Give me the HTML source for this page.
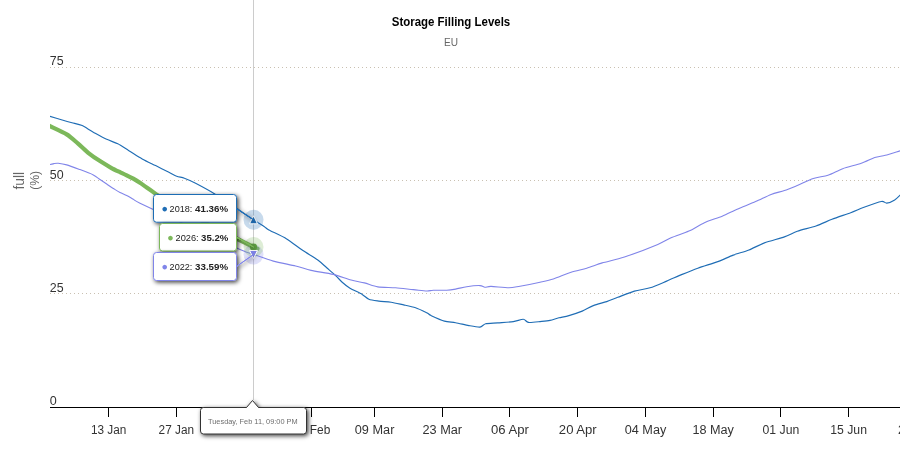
<!DOCTYPE html>
<html lang="en">
<head>
<meta charset="utf-8">
<title>Storage Filling Levels</title>
<style>
html,body{margin:0;padding:0;background:#fff;}
body{width:900px;height:450px;overflow:hidden;font-family:"Liberation Sans", "DejaVu Sans", sans-serif;}
svg{display:block;font-family:"Liberation Sans", "DejaVu Sans", sans-serif;}
.xl text{font-size:12.3px;fill:#333;}
.yl text{font-size:12.9px;fill:#333;}
.tt text{font-size:9.8px;fill:#222;}
.tt tspan.b{font-weight:bold;}
</style>
</head>
<body>
<svg width="900" height="450" viewBox="0 0 900 450">
<defs>
<filter id="sh" x="-20%" y="-30%" width="140%" height="170%">
<feDropShadow dx="1.5" dy="1.5" stdDeviation="2.3" flood-color="#000" flood-opacity="0.75"/>
</filter>
<clipPath id="pc"><rect x="50" y="0" width="860" height="407"/></clipPath>
</defs>
<rect width="900" height="450" fill="#fff"/>
<!-- grid -->
<g stroke="#c9c0b1" stroke-width="1" stroke-dasharray="1,3" fill="none">
<path d="M50 67.5H900"/><path d="M50 180.5H900"/><path d="M50 293.5H900"/>
</g>
<!-- crosshair -->
<path d="M253.5 0V400" stroke="#cccccc" stroke-width="1" fill="none"/>
<!-- axis -->
<g stroke="#000" stroke-width="1" fill="none">
<path d="M50 407.5H900"/>
<path d="M108.5 407V417"/><path d="M176.5 407V417"/><path d="M243.5 407V417"/><path d="M311.5 407V417"/><path d="M374.5 407V417"/><path d="M442.5 407V417"/><path d="M509.5 407V417"/><path d="M577.5 407V417"/><path d="M645.5 407V417"/><path d="M713.5 407V417"/><path d="M780.5 407V417"/><path d="M848.5 407V417"/><path d="M916.5 407V417"/>
</g>
<!-- titles -->
<text x="451" y="26" text-anchor="middle" font-size="12px" font-weight="bold" fill="#000" textLength="118.5" lengthAdjust="spacingAndGlyphs">Storage Filling Levels</text>
<text x="444.1" y="45.6" font-size="11.6px" fill="#666" textLength="14" lengthAdjust="spacingAndGlyphs">EU</text>
<g fill="#666">
<text transform="translate(24,189.6) rotate(-90)" font-size="13.8px" textLength="17.7" lengthAdjust="spacingAndGlyphs">full</text>
<text transform="translate(38.5,189.8) rotate(-90)" font-size="12px" textLength="18.9" lengthAdjust="spacingAndGlyphs">(%)</text>
</g>
<!-- y labels -->
<g class="yl">
<text x="49.8" y="65" textLength="13.8" lengthAdjust="spacingAndGlyphs">75</text>
<text x="49.8" y="179" textLength="13.8" lengthAdjust="spacingAndGlyphs">50</text>
<text x="49.8" y="292" textLength="13.8" lengthAdjust="spacingAndGlyphs">25</text>
<text x="49.8" y="405.2" textLength="7" lengthAdjust="spacingAndGlyphs">0</text>
</g>
<!-- x labels -->
<g class="xl"><text x="108.6" y="433.5" text-anchor="middle" textLength="35.4" lengthAdjust="spacingAndGlyphs">13 Jan</text><text x="176.3" y="433.5" text-anchor="middle" textLength="35.4" lengthAdjust="spacingAndGlyphs">27 Jan</text><text x="244.0" y="433.5" text-anchor="middle" textLength="37.0" lengthAdjust="spacingAndGlyphs">10 Feb</text><text x="311.8" y="433.5" text-anchor="middle" textLength="37.0" lengthAdjust="spacingAndGlyphs">24 Feb</text><text x="374.6" y="433.5" text-anchor="middle" textLength="39.6" lengthAdjust="spacingAndGlyphs">09 Mar</text><text x="442.3" y="433.5" text-anchor="middle" textLength="39.6" lengthAdjust="spacingAndGlyphs">23 Mar</text><text x="510.0" y="433.5" text-anchor="middle" textLength="37.9" lengthAdjust="spacingAndGlyphs">06 Apr</text><text x="577.8" y="433.5" text-anchor="middle" textLength="37.9" lengthAdjust="spacingAndGlyphs">20 Apr</text><text x="645.5" y="433.5" text-anchor="middle" textLength="41.5" lengthAdjust="spacingAndGlyphs">04 May</text><text x="713.2" y="433.5" text-anchor="middle" textLength="41.5" lengthAdjust="spacingAndGlyphs">18 May</text><text x="780.9" y="433.5" text-anchor="middle" textLength="36.7" lengthAdjust="spacingAndGlyphs">01 Jun</text><text x="848.6" y="433.5" text-anchor="middle" textLength="36.7" lengthAdjust="spacingAndGlyphs">15 Jun</text><text x="916.4" y="433.5" text-anchor="middle" textLength="36.7" lengthAdjust="spacingAndGlyphs">29 Jun</text></g>
<!-- series -->
<g fill="none" stroke-linejoin="round" stroke-linecap="round" clip-path="url(#pc)">
<path d="M45.0 114.8C45.7 115.0 47.7 115.6 50.0 116.3C52.3 117.0 59.3 119.1 62.2 120.0C65.1 120.9 69.3 122.1 72.0 122.8C74.7 123.5 79.4 124.3 82.2 125.6C85.0 126.9 90.0 130.4 93.3 132.2C96.6 134.0 103.4 137.8 106.7 139.3C110.0 140.8 114.8 142.3 117.8 143.8C120.8 145.3 125.6 148.7 128.9 150.7C132.2 152.7 138.6 156.9 142.2 158.9C145.8 160.9 152.0 163.8 155.6 165.6C159.2 167.4 166.1 170.8 168.9 172.2C171.7 173.6 174.6 175.4 176.7 176.2C178.8 177.0 181.9 177.3 184.4 178.2C186.9 179.1 191.4 181.1 195.6 183.3C199.8 185.5 210.1 191.1 215.6 194.4C221.1 197.7 231.4 204.9 236.5 208.3C241.6 211.7 249.8 217.3 253.5 219.8C257.2 222.3 262.3 225.3 264.4 226.7C266.5 228.1 265.9 228.4 268.9 230.0C271.9 231.6 282.3 236.2 286.7 238.9C291.1 241.6 298.1 247.2 302.2 250.0C306.3 252.8 314.5 257.6 317.8 260.0C321.1 262.4 324.3 265.7 326.7 267.8C329.1 269.9 333.5 273.7 335.6 275.6C337.7 277.5 340.3 280.5 342.2 282.2C344.1 283.9 347.3 286.6 350.0 288.2C352.7 289.8 359.7 292.9 362.2 294.4C364.7 295.9 366.7 298.4 368.9 299.3C371.1 300.2 375.9 300.7 378.9 301.1C381.9 301.5 387.7 301.7 391.1 302.2C394.5 302.7 401.1 304.4 404.4 305.1C407.7 305.8 412.6 306.8 415.6 307.8C418.6 308.8 424.6 311.7 426.7 312.7C428.8 313.7 428.7 314.5 431.1 315.6C433.5 316.7 441.1 320.2 444.4 321.1C447.7 322.0 452.3 322.1 455.6 322.7C458.9 323.3 465.6 325.0 468.9 325.6C472.2 326.2 477.8 327.3 480.0 327.1C482.2 326.9 483.2 324.4 485.6 323.8C488.0 323.2 494.1 323.2 497.8 322.9C501.5 322.6 509.9 322.1 513.3 321.6C516.7 321.1 521.3 319.2 523.3 319.3C525.3 319.4 526.2 322.1 528.4 322.4C530.6 322.7 537.1 321.9 540.0 321.6C542.9 321.3 547.5 320.9 550.0 320.4C552.5 319.9 556.4 318.4 558.9 317.8C561.4 317.2 565.8 316.5 568.9 315.6C572.0 314.7 578.9 312.4 582.2 311.1C585.5 309.8 590.0 306.9 593.3 305.6C596.6 304.3 603.4 302.7 606.7 301.6C610.0 300.5 614.1 298.7 617.8 297.3C621.5 295.9 630.1 292.4 634.4 291.1C638.7 289.8 645.7 289.1 650.0 287.8C654.3 286.5 662.4 282.9 666.7 281.1C671.0 279.3 678.1 276.1 682.2 274.4C686.3 272.7 693.1 269.9 697.8 268.2C702.5 266.5 713.1 263.3 717.8 261.6C722.5 259.9 729.2 256.6 733.3 255.1C737.4 253.6 744.8 251.6 748.9 250.0C753.0 248.4 759.7 244.6 764.4 242.9C769.1 241.2 780.0 238.4 784.4 236.9C788.8 235.4 793.1 232.8 797.3 231.3C801.5 229.8 811.4 227.6 816.0 226.0C820.6 224.4 827.4 221.1 832.0 219.3C836.6 217.5 846.4 214.3 850.7 212.7C855.0 211.1 859.9 208.8 864.0 207.3C868.1 205.8 878.3 202.1 881.3 201.5C884.3 200.9 884.9 203.3 886.7 203.1C888.5 202.9 892.8 201.1 894.7 199.9C896.6 198.7 900.2 195.0 901.0 194.2" stroke="#1f6db5" stroke-width="1.15"/>
<path d="M45.0 166.3C45.7 166.1 48.8 165.0 50.0 164.6C51.2 164.2 52.9 163.8 54.0 163.6C55.1 163.4 56.6 163.1 58.3 163.3C60.0 163.5 63.8 164.1 66.7 164.9C69.6 165.7 76.5 168.3 80.0 169.6C83.5 170.9 90.6 173.6 93.3 174.9C96.0 176.2 98.2 178.3 100.0 179.5C101.8 180.7 104.9 182.8 106.7 184.0C108.5 185.2 111.5 187.4 113.3 188.5C115.1 189.6 118.2 191.6 120.0 192.5C121.8 193.4 124.9 194.6 126.7 195.5C128.5 196.4 131.5 198.3 133.3 199.3C135.1 200.3 133.8 200.2 140.0 203.2C146.2 206.2 166.7 215.8 180.0 222.0C193.3 228.2 230.2 245.3 240.0 249.6C249.8 253.9 249.1 252.9 253.5 254.4C257.9 255.9 267.7 259.6 273.3 261.1C278.9 262.6 290.6 264.8 295.6 266.0C300.6 267.2 306.1 269.3 311.1 270.4C316.1 271.5 328.0 273.1 333.3 274.4C338.6 275.7 347.0 278.9 351.1 280.0C355.2 281.1 360.8 282.0 364.4 282.9C368.0 283.8 373.6 286.2 377.8 286.9C382.0 287.6 390.9 287.4 395.6 287.8C400.3 288.2 409.2 289.2 413.3 289.6C417.4 290.0 424.0 290.9 426.7 291.0C429.4 291.1 430.6 290.3 433.3 290.2C436.0 290.1 443.7 290.3 446.7 290.2C449.7 290.1 452.9 289.6 455.6 289.1C458.3 288.6 463.4 287.2 466.7 286.7C470.0 286.2 477.6 285.5 480.0 285.6C482.4 285.7 483.4 287.2 484.9 287.3C486.4 287.4 487.9 286.3 491.1 286.4C494.3 286.5 505.0 287.8 508.9 287.8C512.8 287.8 515.9 286.9 520.0 286.2C524.1 285.5 535.6 283.2 540.0 282.2C544.4 281.2 549.2 280.2 553.3 278.9C557.4 277.6 566.6 273.6 571.1 272.2C575.6 270.8 582.6 269.4 586.7 268.2C590.8 267.0 597.2 264.4 602.2 262.9C607.2 261.4 617.0 259.6 624.4 257.1C631.8 254.6 651.6 247.0 657.8 244.4C664.0 241.8 667.0 239.6 671.1 237.8C675.2 236.0 684.5 233.1 688.9 231.1C693.3 229.1 700.0 224.7 704.4 222.7C708.8 220.7 717.7 218.0 722.2 216.2C726.7 214.4 733.3 210.8 737.8 208.9C742.3 207.0 751.2 203.5 755.6 201.6C760.0 199.7 767.3 195.9 771.1 194.4C774.9 192.9 780.9 191.8 784.4 190.6C787.9 189.4 793.4 187.1 797.3 185.5C801.2 183.9 809.2 179.9 813.3 178.5C817.4 177.1 824.1 176.6 828.0 175.3C831.9 174.0 838.3 170.3 842.7 168.7C847.1 167.1 857.0 164.8 861.3 163.3C865.6 161.8 871.5 158.6 874.7 157.5C877.9 156.4 881.8 156.2 885.3 155.3C888.8 154.4 898.9 151.1 901.0 150.5" stroke="#8085e9" stroke-width="1.1"/>
<path d="M45.0 123.8C45.7 124.1 47.1 124.8 50.0 126.2C52.9 127.6 63.0 132.1 66.7 134.4C70.4 136.7 74.8 140.8 77.8 143.3C80.8 145.8 85.9 150.9 88.9 153.3C91.9 155.7 97.0 159.2 100.0 161.1C103.0 163.0 108.4 166.3 111.1 167.8C113.8 169.3 117.9 171.2 120.0 172.2C122.1 173.2 124.9 174.5 126.7 175.4C128.5 176.3 131.5 177.6 133.3 178.6C135.1 179.6 138.2 181.6 140.0 182.8C141.8 184.0 144.9 186.3 146.7 187.5C148.5 188.7 151.8 191.0 153.3 192.1C154.8 193.2 156.3 194.3 158.0 195.5C159.7 196.7 163.1 199.2 166.0 201.0C168.9 202.8 175.5 206.5 180.0 209.0C184.5 211.5 194.7 217.2 200.0 220.0C205.3 222.8 215.1 227.8 220.0 230.3C224.9 232.8 232.0 236.3 236.5 238.5C241.0 240.7 250.7 245.6 253.5 247.0C256.3 248.4 257.0 248.6 257.5 248.8" stroke="#7cb85a" stroke-width="4.2"/>
</g>
<!-- halos & markers -->
<circle cx="253.5" cy="219.8" r="10" fill="#1f6db5" fill-opacity="0.25"/>
<circle cx="253.5" cy="254.5" r="10" fill="#8085e9" fill-opacity="0.25"/>
<circle cx="253.5" cy="247" r="10" fill="#7cb85a" fill-opacity="0.25"/>
<path d="M253.5 215.8L257.5 223.8H249.5Z" fill="#1f6db5" stroke="#fff" stroke-width="1"/>
<circle cx="253.5" cy="247" r="3.6" fill="#5f9f43"/>
<path d="M249.5 250.5H257.5L253.5 258.5Z" fill="#8085e9" stroke="#fff" stroke-width="1"/>
<!-- tooltips -->
<g class="tt">
<g filter="url(#sh)">
<path d="M156.5 194.5H233.5a3 3 0 0 1 3 3V208.7L253.5 219.8L236.5 208.7V219.2a3 3 0 0 1 -3 3H156.5a3 3 0 0 1 -3 -3V197.5a3 3 0 0 1 3 -3Z" fill="#fff" stroke="#1f6db5" stroke-width="1"/>
</g>
<g filter="url(#sh)">
<path d="M162.5 223.5H233.5a3 3 0 0 1 3 3V237.2L253.5 247L236.5 237.2V248a3 3 0 0 1 -3 3H162.5a3 3 0 0 1 -3 -3V226.5a3 3 0 0 1 3 -3Z" fill="#fff" stroke="#7cb85a" stroke-width="1"/>
</g>
<g filter="url(#sh)">
<path d="M156.5 252.5H233.5a3 3 0 0 1 3 3V266.5L253.5 254.5L236.5 266.5V277.5a3 3 0 0 1 -3 3H156.5a3 3 0 0 1 -3 -3V255.5a3 3 0 0 1 3 -3Z" fill="#fff" stroke="#8085e9" stroke-width="1"/>
</g>
<text x="161.5" y="212.4" style="font-size:10.6px;fill:#1f6db5">●</text><text x="169.6" y="212" textLength="22.8" lengthAdjust="spacingAndGlyphs">2018:</text><text x="195.1" y="212" font-weight="bold" textLength="33" lengthAdjust="spacingAndGlyphs">41.36%</text>
<text x="167.3" y="241.4" style="font-size:10.6px;fill:#7cb85a">●</text><text x="175.5" y="241" textLength="23.2" lengthAdjust="spacingAndGlyphs">2026:</text><text x="201.1" y="241" font-weight="bold" textLength="27.3" lengthAdjust="spacingAndGlyphs">35.2%</text>
<text x="161.5" y="270.4" style="font-size:10.6px;fill:#8085e9">●</text><text x="169.6" y="270" textLength="22.8" lengthAdjust="spacingAndGlyphs">2022:</text><text x="195.1" y="270" font-weight="bold" textLength="33" lengthAdjust="spacingAndGlyphs">33.59%</text>
</g>
<!-- header tooltip -->
<g filter="url(#sh)">
<path d="M203.5 407.5H246.5L252.5 400.5L258.5 407.5H303.5a3 3 0 0 1 3 3V431a3 3 0 0 1 -3 3H203.5a3 3 0 0 1 -3 -3V410.5a3 3 0 0 1 3 -3Z" fill="#fff" stroke="#333" stroke-width="1"/>
</g>
<text x="208" y="424" font-size="8px" fill="#6e6e6e" textLength="89.7" lengthAdjust="spacingAndGlyphs">Tuesday, Feb 11, 09:00 PM</text>
</svg>
</body>
</html>
